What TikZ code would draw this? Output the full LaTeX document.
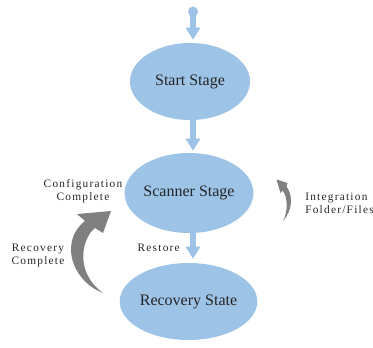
\documentclass[tikz,border=0pt]{standalone}
\usepackage{fontspec}
\setmainfont{Liberation Serif}
\newfontfamily\lblfont[LetterSpace=11]{Liberation Serif}
\usetikzlibrary{shapes.geometric,arrows.meta}

\definecolor{stageblue}{HTML}{9DC3E6}
\definecolor{arrowgray}{HTML}{808080}

\tikzset{
  stage/.style={ellipse, fill=stageblue, inner sep=0pt, font=\fontsize{12pt}{14pt}\selectfont, text=black!85},
  flow/.style={draw=stageblue, line width=4.2pt, -{Triangle[length=9pt,width=10.5pt]}},
  lbl/.style={inner sep=0.75pt, align=center, text=black!85, font=\lblfont\fontsize{8.5pt}{9.75pt}\selectfont}
}

\begin{document}
\begin{tikzpicture}[x=0.75pt,y=0.75pt,yscale=-1,xscale=1]

\useasboundingbox (0,0) rectangle (373,347);

% stages
\node[stage, minimum width=90pt, minimum height=57.75pt] (start) at (190,81.5) {Start Stage};
\node[stage, minimum width=92pt, minimum height=60pt] (scanner) at (189,193) {Scanner Stage};
\node[stage, minimum width=88pt, minimum height=57.75pt] (recovery) at (188.5,301.5) {Recovery State};

% initial point
\node[circle, fill=stageblue, minimum size=7.5pt, inner sep=0pt] (init) at (193,11.5) {};

% flow arrows
\draw[flow, shorten >=2.25pt] (init.center) -- (init |- start.north);
\draw[flow, shorten >=1.5pt] (start.south -| init) -- (scanner.north -| init);
\draw[flow, shorten <=-2pt, shorten >=3pt] (scanner.south -| init) -- (recovery.north -| init);

% curved arrows
\fill[arrowgray] (103,293) .. controls (70,280) and (60,240) .. (85,221) -- (77,214) -- (111,211) -- (103,233) -- (95,228) .. controls (82,238) and (74,272) .. cycle;

\fill[arrowgray] (283,221) .. controls (293,210) and (293,195) .. (286.5,186.5) -- (287.5,183) -- (276.5,179.5) -- (280.5,193) -- (282.5,190.5) .. controls (288,197) and (288,212) .. cycle;

% labels
\node[lbl] (cfgdone) at (83,191.5) {Configuration\\Complete};
\node[lbl] (rcvdone) at (38,255) {Recovery\\Complete};
\node[lbl, anchor=east] (restore) at (181,248) {Restore};
\node[lbl, align=left, anchor=west] (integr) at (304,203.5) {Integration\\Folder/Files};

\end{tikzpicture}
\end{document}
